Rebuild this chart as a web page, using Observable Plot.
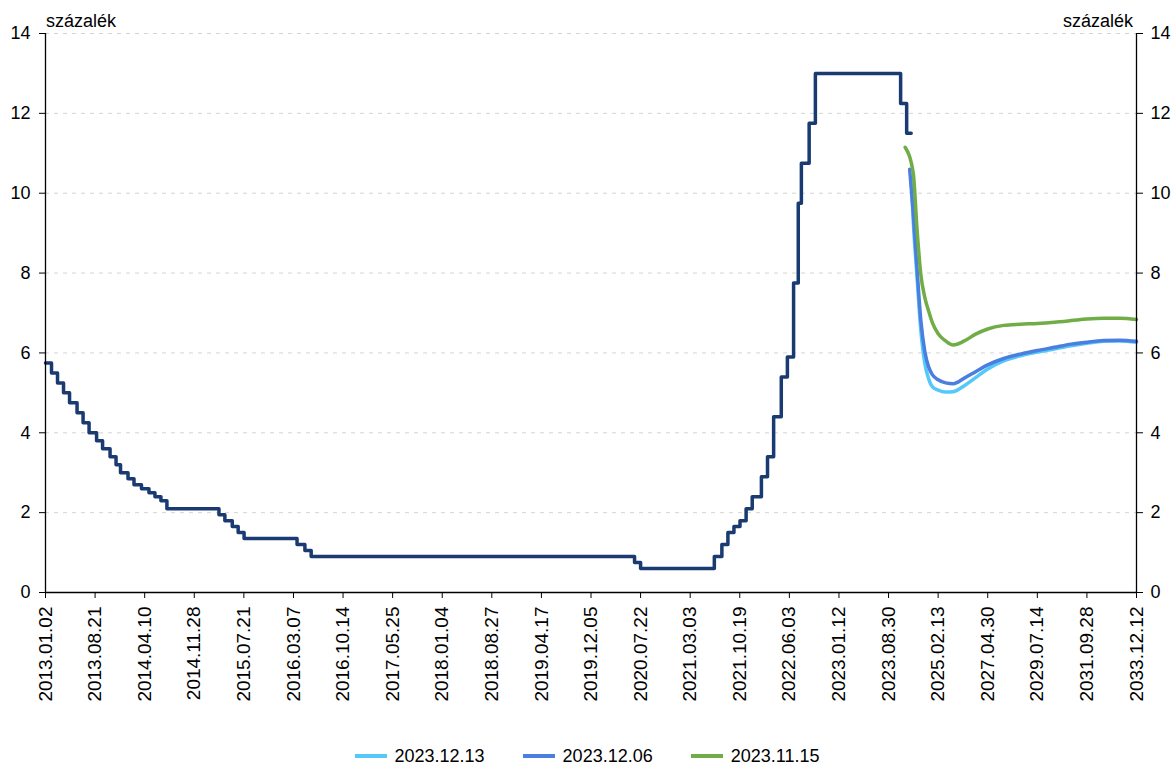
<!DOCTYPE html>
<html>
<head>
<meta charset="utf-8">
<script src="https://cdn.jsdelivr.net/npm/d3@7"></script>
<script src="https://cdn.jsdelivr.net/npm/@observablehq/plot@0.6"></script>
<style>
  body { margin: 0; background: #fff; font-family: "Liberation Sans", Arial, sans-serif; }
  #wrap { position: relative; width: 1174px; height: 767px; }
  .unit { position: absolute; top: 12px; font-size: 18px; line-height: 18px; color: #000; }
  #legend { position: absolute; top: 746px; left: 0; width: 1174px; height: 20px; line-height: 20px;
            display: flex; justify-content: center; align-items: center; font-size: 18px; color: #000; }
  .item { display: flex; align-items: center; margin: 0 19px; }
  .sw { width: 32px; height: 4px; margin-right: 8px; }
</style>
</head>
<body>
<div id="wrap">
  <div class="unit" style="left:46px">százalék</div>
  <div class="unit" style="right:41px">százalék</div>
  <div id="legend"></div>
</div>
<script>
// ---- x tick labels (category-style axis) ----
const tickLabels = ["2013.01.02","2013.08.21","2014.04.10","2014.11.28","2015.07.21","2016.03.07",
  "2016.10.14","2017.05.25","2018.01.04","2018.08.27","2019.04.17","2019.12.05","2020.07.22",
  "2021.03.03","2021.10.19","2022.06.03","2023.01.12","2023.08.30","2025.02.13","2027.04.30",
  "2029.07.14","2031.09.28","2033.12.12"];
const yTicks = [0, 2, 4, 6, 8, 10, 12, 14];

// ---- history: base rate (step changes) ----
const historyDates = ["2013.01.02","2013.01.30","2013.02.27","2013.03.27","2013.04.24","2013.05.29",
  "2013.06.26","2013.07.24","2013.08.28","2013.09.25","2013.10.30","2013.11.27","2013.12.18",
  "2014.01.22","2014.02.19","2014.03.26","2014.04.30","2014.05.28","2014.06.25","2014.07.23",
  "2015.03.25","2015.04.22","2015.05.27","2015.06.24","2015.07.22","2016.03.23","2016.04.27",
  "2016.05.25","2020.06.24","2020.07.22","2021.06.23","2021.07.28","2021.08.25","2021.09.22",
  "2021.10.20","2021.11.17","2021.12.15","2022.01.26","2022.02.23","2022.03.23","2022.04.27",
  "2022.05.25","2022.06.22","2022.07.13","2022.07.27","2022.08.31","2022.09.28","2023.10.25",
  "2023.11.22","2023.12.13"];
const historyRates = [5.75,5.5,5.25,5.0,4.75,4.5,4.25,4.0,3.8,3.6,3.4,3.2,3.0,2.85,2.7,2.6,2.5,2.4,
  2.3,2.1,1.95,1.8,1.65,1.5,1.35,1.2,1.05,0.9,0.75,0.6,0.9,1.2,1.5,1.65,1.8,2.1,2.4,2.9,3.4,4.4,
  5.4,5.9,7.75,9.75,10.75,11.75,13.0,12.25,11.5,11.5];

// ---- forward curves ----
const seriesNames = ["2023.12.13","2023.12.06","2023.11.15"];
const seriesColors = ["#55c8fa","#4a7fe0","#70ad47"];
const startValues = [10.4, 10.6, 11.15];
const fwdGrid = ["2024.01.15","2024.03.15","2024.05.15","2024.07.15","2024.09.15","2024.11.15",
  "2025.02.13","2025.06.15","2025.10.15","2026.04.15","2026.10.15","2027.04.30","2028.01.15",
  "2028.10.15","2029.07.14","2030.04.15","2031.01.15","2031.09.28","2032.07.01","2033.03.15","2033.12.12"];
const fwd1213 = [9.3,7.9,6.55,5.75,5.35,5.15,5.07,5.02,5.03,5.18,5.38,5.6,5.8,5.93,6.02,6.1,6.18,6.24,6.29,6.3,6.27];
const fwd1206 = [9.5,8.1,6.8,6.05,5.65,5.45,5.33,5.25,5.23,5.37,5.53,5.7,5.86,5.97,6.06,6.14,6.22,6.27,6.31,6.32,6.29];
const fwd1115 = [10.5,9.1,7.95,7.4,7.05,6.75,6.48,6.3,6.2,6.3,6.47,6.6,6.69,6.72,6.74,6.77,6.81,6.85,6.87,6.87,6.84];
const fwdValues = [fwd1213, fwd1206, fwd1115];

const historyColor = "#1a3a72";

// ---- build tables ----
const parse = d3.utcParse("%Y.%m.%d");
const fmt = d3.utcFormat("%Y.%m.%d");
const tickDates = tickLabels.map(parse);
const history = historyDates.map((d, i) => ({date: parse(d), v: historyRates[i]}));
const forward = [];
seriesNames.forEach((name, s) => {
  forward.push({series: name, date: parse(name), v: startValues[s]});
  fwdGrid.forEach((d, i) => forward.push({series: name, date: parse(d), v: fwdValues[s][i]}));
});

// ---- piecewise x scale: daily history grid, then the coarser forward grid ----
const W = 1174, ML = 45, MR = 38, MT = 33, H = 730, MB = H - 592;
const junction = history[history.length - 1].date;
const nHist = tickLabels.indexOf("2023.08.30");
const step = (W - ML - MR) / (tickDates.length - 1);
const jFrac = (junction - tickDates[nHist]) / (tickDates[nHist] - tickDates[nHist - 1]);
const xDomain = [...tickDates.slice(0, nHist + 1), junction, ...tickDates.slice(nHist + 1)];
const xRange = [...d3.range(nHist + 1).map(i => ML + i * step), ML + (nHist + jFrac) * step,
  ...d3.range(nHist + 1, tickDates.length).map(i => ML + i * step)];

const chart = Plot.plot({
  width: W, height: H,
  marginLeft: ML, marginRight: MR, marginTop: MT, marginBottom: MB,
  style: {fontFamily: "'Liberation Sans', Arial, sans-serif", background: "white", overflow: "visible"},
  x: {type: "utc", domain: xDomain, range: xRange},
  y: {domain: [0, 14]},
  color: {domain: seriesNames, range: seriesColors},
  marks: [
    Plot.ruleY(yTicks.filter(d => d > 0), {stroke: "#d4d4d4", strokeDasharray: "4,5", strokeWidth: 1}),
    Plot.line(history, {x: "date", y: "v", curve: "step-after", stroke: historyColor, strokeWidth: 3.5}),
    Plot.line(forward, {x: "date", y: "v", z: "series", stroke: "series", curve: "monotone-x", strokeWidth: 3.5}),
    Plot.ruleX([xDomain[0], xDomain[xDomain.length - 1]], {stroke: "black", strokeWidth: 1.3}),
    Plot.ruleY([0], {stroke: "black", strokeWidth: 1.3}),
    Plot.axisY({anchor: "left", ticks: yTicks, tickSize: 6, tickPadding: 9, fontSize: 18, label: null}),
    Plot.axisY({anchor: "right", ticks: yTicks, tickSize: 6, tickPadding: 8, fontSize: 18, label: null}),
    Plot.axisX({ticks: tickDates, tickFormat: fmt, tickRotate: -90, tickSize: 6, tickPadding: 8, fontSize: 19, label: null})
  ]
});
chart.style.position = "absolute";
chart.style.left = "0px";
chart.style.top = "0px";
document.getElementById("wrap").prepend(chart);

// ---- legend ----
const legend = document.getElementById("legend");
seriesNames.forEach((name, i) => {
  const item = document.createElement("div");
  item.className = "item";
  const sw = document.createElement("div");
  sw.className = "sw";
  sw.style.background = seriesColors[i];
  const t = document.createElement("span");
  t.textContent = name;
  item.append(sw, t);
  legend.append(item);
});
</script>
</body>
</html>
